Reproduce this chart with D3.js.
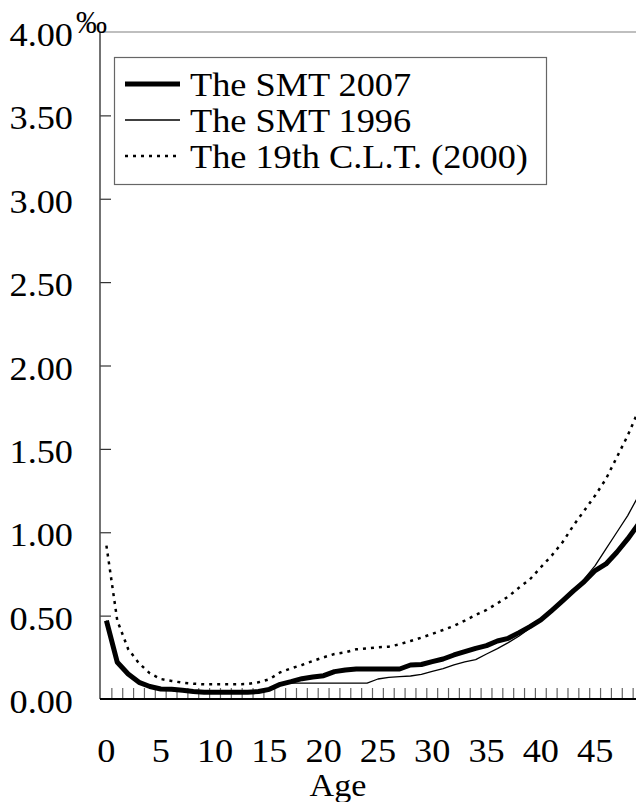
<!DOCTYPE html>
<html>
<head>
<meta charset="utf-8">
<script src="https://cdn.jsdelivr.net/npm/d3@7"></script>
<style>
  html, body { margin: 0; padding: 0; background: #fff; }
  svg { display: block; }
  text { font-family: "Liberation Serif", "Times New Roman", serif; fill: #000; }
</style>
</head>
<body>
<script>
// ---- data ----
const ages = [0,1,2,3,4,5,6,7,8,9,10,11,12,13,14,15,16,17,18,19,20,21,22,23,24,25,26,27,28,29,30,31,32,33,34,35,36,37,38,39,40,41,42,43,44,45,46,47,48,49];
const smt2007 = [0.47,0.22,0.15,0.10,0.075,0.06,0.058,0.052,0.045,0.04,0.04,0.04,0.04,0.04,0.045,0.058,0.088,0.104,0.122,0.132,0.14,0.164,0.174,0.18,0.18,0.18,0.18,0.18,0.204,0.207,0.224,0.24,0.264,0.284,0.304,0.32,0.348,0.364,0.398,0.434,0.474,0.53,0.588,0.648,0.704,0.77,0.81,0.88,0.96,1.05];
const smt1996 = [0.47,0.22,0.15,0.10,0.075,0.06,0.055,0.05,0.045,0.04,0.04,0.04,0.04,0.04,0.045,0.06,0.09,0.095,0.095,0.095,0.095,0.095,0.095,0.095,0.095,0.12,0.13,0.134,0.138,0.148,0.166,0.182,0.205,0.222,0.236,0.27,0.302,0.338,0.378,0.424,0.47,0.53,0.59,0.652,0.72,0.80,0.90,1.00,1.10,1.22];
const clt2000 = [0.92,0.47,0.30,0.214,0.154,0.12,0.108,0.098,0.092,0.088,0.088,0.088,0.088,0.09,0.10,0.118,0.16,0.184,0.204,0.228,0.25,0.27,0.28,0.298,0.304,0.31,0.314,0.328,0.348,0.368,0.39,0.414,0.438,0.47,0.504,0.534,0.574,0.614,0.668,0.718,0.79,0.86,0.94,1.04,1.13,1.22,1.32,1.45,1.58,1.73];
const seriesNames = ["The SMT 2007", "The SMT 1996", "The 19th C.L.T. (2000)"];
const xTickLabels = [0,5,10,15,20,25,30,35,40,45];
const yTickValues = [0,0.5,1,1.5,2,2.5,3,3.5,4];
const yTickLabels = ["0.00","0.50","1.00","1.50","2.00","2.50","3.00","3.50","4.00"];
const unitLabel = "‰";
const xTitle = "Age";

// ---- layout ----
const W = 636, H = 802;
const left = 101, bandW = 10.86;
const yBottom = 699, yTop = 32;
const FS = 33, SX = 1.1;

const svg = d3.select("body").append("svg").attr("width", W).attr("height", H);
svg.append("rect").attr("width", W).attr("height", H).attr("fill", "#fff");

const x = d3.scaleBand().domain(ages).range([left, left + bandW * ages.length]).padding(0);
const y = d3.scaleLinear().domain([0, 4]).range([yBottom, yTop]);
const cx = a => x(a) + x.bandwidth() / 2;

function stext(g, tx, ty, str, anchor, fs) {
  return g.append("text")
    .attr("transform", `translate(${tx},${ty}) scale(${SX},1)`)
    .attr("text-anchor", anchor).attr("font-size", fs || FS).text(str);
}

// frame top line
svg.append("line").attr("x1", 100).attr("x2", W).attr("y1", y(4)).attr("y2", y(4))
  .attr("stroke", "#808080").attr("stroke-width", 1.2);

// y axis
const yAxis = d3.axisRight(y).tickValues(yTickValues.slice(1, -1)).tickSize(11).tickFormat("");
const gy = svg.append("g").attr("transform", "translate(100,0)").call(yAxis);
gy.select(".domain").remove();
gy.selectAll(".tick line").attr("stroke", "#333").attr("stroke-width", 1.2);
svg.append("line").attr("x1", 100).attr("x2", 100).attr("y1", y(4)).attr("y2", y(0))
  .attr("stroke", "#444").attr("stroke-width", 1.5);

// y labels
const gyl = svg.append("g");
yTickValues.forEach((v, i) => stext(gyl, 73, y(v) + 14, yTickLabels[i], "end"));
svg.append("text").attr("x", 76).attr("y", 33).attr("font-size", 31).text(unitLabel);

// x axis ticks (category boundaries, pointing up)
const xAxis = d3.axisTop(x).tickValues(ages.slice(1)).tickSize(11).tickFormat("").offset(0);
const gx = svg.append("g").attr("transform", `translate(${-x.bandwidth()/2},${yBottom})`).call(xAxis);
gx.select(".domain").remove();
gx.selectAll(".tick line").attr("stroke", "#666").attr("stroke-width", 1.2);
svg.append("line").attr("x1", 100).attr("x2", W).attr("y1", yBottom).attr("y2", yBottom)
  .attr("stroke", "#000").attr("stroke-width", 2);

// x labels
const gxl = svg.append("g");
xTickLabels.forEach(d => stext(gxl, cx(d), 762, d, "middle"));
stext(svg, 338, 796, xTitle, "middle", 31);

// lines
const line = d3.line().x((d, i) => cx(ages[i])).y(d => y(d));
const styles = [
  { data: smt2007, w: 5, dash: null },
  { data: smt1996, w: 1.3, dash: null },
  { data: clt2000, w: 2.5, dash: "3,5" }
];
const plot = svg.append("g");
[styles[2], styles[1], styles[0]].forEach(s => {
  plot.append("path").datum(s.data).attr("d", line)
    .attr("fill", "none").attr("stroke", "#000")
    .attr("stroke-width", s.w).attr("stroke-dasharray", s.dash)
    .attr("stroke-linejoin", "round");
});

// legend
const lg = svg.append("g");
lg.append("rect").attr("x", 114.5).attr("y", 57.5).attr("width", 432).attr("height", 127)
  .attr("fill", "#fff").attr("stroke", "#666").attr("stroke-width", 1.2);
const rowBase = [96, 132, 168];
seriesNames.forEach((name, i) => {
  lg.append("line").attr("x1", 125).attr("x2", 180)
    .attr("y1", rowBase[i] - 12).attr("y2", rowBase[i] - 12)
    .attr("stroke", "#000").attr("stroke-width", styles[i].w)
    .attr("stroke-dasharray", styles[i].dash);
  stext(lg, 190, rowBase[i], name, "start");
});
</script>
</body>
</html>
